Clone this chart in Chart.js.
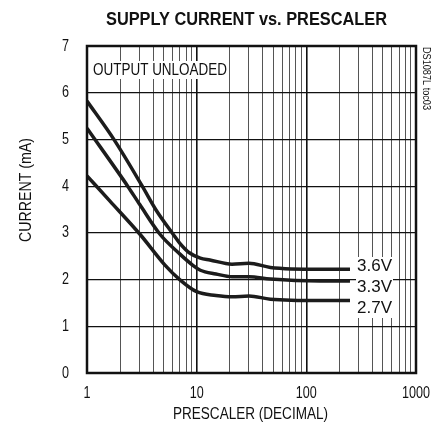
<!DOCTYPE html>
<html>
<head>
<meta charset="utf-8">
<script src="https://cdn.jsdelivr.net/npm/chart.js@4.4.1/dist/chart.umd.min.js"></script>
<style>
  html, body { margin: 0; padding: 0; background: #fff; }
  #wrap { width: 441px; height: 435px; }
</style>
</head>
<body>
<div id="wrap"><canvas id="c" width="441" height="435"></canvas></div>
<script>
// supply current (mA) vs prescaler
const x36 = [1, 1.77, 3.19, 4.26, 6.1, 7, 8.5, 10.8, 13.2, 21, 30, 47, 133, 250];
const y36 = [5.82, 4.99, 4.0, 3.49, 2.97, 2.78, 2.58, 2.46, 2.42, 2.33, 2.35, 2.26, 2.22, 2.22];
const x33 = [1, 2.35, 3.04, 4.63, 7, 9.3, 10.8, 15, 21, 30, 47, 133, 250];
const y33 = [5.24, 4.0, 3.6, 2.97, 2.55, 2.3, 2.2, 2.12, 2.06, 2.06, 2.01, 1.97, 1.97];
const x27 = [1, 1.62, 3.04, 5.14, 7, 10, 15, 21, 30, 47, 133, 250];
const y27 = [4.22, 3.68, 2.97, 2.31, 2.0, 1.74, 1.66, 1.63, 1.65, 1.58, 1.55, 1.55];

const seriesNames = ['3.6V', '3.3V', '2.7V'];
const xTickLabels = [1, 10, 100, 1000];
const yTickLabels = [0, 1, 2, 3, 4, 5, 6, 7];
const xGrid = [1,2,3,4,5,6,7,8,9,10,20,30,40,50,60,70,80,90,100,200,300,400,500,600,700,800,900,1000];

const FONT = "'Liberation Sans', Arial, sans-serif";

function pts(xs, ys) {
  return xs.map((x, i) => ({ x: x, y: ys[i] }));
}

// draw text squeezed horizontally by sx
function narrowText(ctx, text, x, y, align, sx) {
  const w = ctx.measureText(text).width * sx;
  let left = x;
  if (align === 'center') left = x - w / 2;
  else if (align === 'right') left = x - w;
  ctx.save();
  ctx.translate(left, y);
  ctx.scale(sx, 1);
  ctx.textAlign = 'left';
  ctx.fillText(text, 0, 0);
  ctx.restore();
}

// squeeze factor so that text gets the given width
function fitScale(ctx, text, width) {
  return width / ctx.measureText(text).width;
}

function isDecade(v) {
  return xTickLabels.indexOf(v) >= 0;
}

const lineStyle = {
  borderColor: '#1c1c1c',
  borderWidth: 3.5,
  pointRadius: 0,
  fill: false,
  cubicInterpolationMode: 'monotone'
};

const textPlugin = {
  id: 'texts',
  afterDatasetsDraw(chart) {
    const ctx = chart.ctx;
    const a = chart.chartArea;
    const xs = chart.scales.x, ys = chart.scales.y;
    ctx.save();
    ctx.textBaseline = 'middle';

    ctx.font = '16.5px ' + FONT;
    const sx = fitScale(ctx, '1000', 28);

    // OUTPUT UNLOADED box
    ctx.fillStyle = '#fff';
    ctx.fillRect(a.left + 3, 61, 139, 18);
    ctx.fillStyle = '#111';
    narrowText(ctx, 'OUTPUT UNLOADED', 93, 70, 'left', fitScale(ctx, 'OUTPUT UNLOADED', 134));

    // series labels
    const labelY = [266, 287, 308];
    ctx.fillStyle = '#fff';
    ctx.fillRect(356, 257, 37, 61);
    ctx.fillStyle = '#111';
    const sl = fitScale(ctx, '3.6V', 35);
    seriesNames.forEach((s, i) => narrowText(ctx, s, 357, labelY[i], 'left', sl));

    // frame
    ctx.strokeStyle = '#111';
    ctx.lineWidth = 2.5;
    ctx.strokeRect(a.left, a.top, a.right - a.left, a.bottom - a.top);

    // tick labels
    xTickLabels.forEach(v => narrowText(ctx, String(v), xs.getPixelForValue(v), 393, 'center', sx));
    yTickLabels.forEach(v => narrowText(ctx, String(v), 69, ys.getPixelForValue(v), 'right', sx));

    // axis titles
    ctx.font = '16px ' + FONT;
    narrowText(ctx, 'PRESCALER (DECIMAL)', 250.5, 415, 'center', fitScale(ctx, 'PRESCALER (DECIMAL)', 155));
    ctx.save();
    ctx.translate(27, 190);
    ctx.rotate(-Math.PI / 2);
    narrowText(ctx, 'CURRENT (mA)', 0, 0, 'center', fitScale(ctx, 'CURRENT (mA)', 104));
    ctx.restore();

    // title
    ctx.font = 'bold 18.5px ' + FONT;
    narrowText(ctx, 'SUPPLY CURRENT vs. PRESCALER', 246.5, 20, 'center',
      fitScale(ctx, 'SUPPLY CURRENT vs. PRESCALER', 281));

    // side code
    ctx.font = '11px ' + FONT;
    ctx.save();
    ctx.translate(426, 78.5);
    ctx.rotate(Math.PI / 2);
    narrowText(ctx, 'DS1087L toc03', 0, 0, 'center', fitScale(ctx, 'DS1087L toc03', 63));
    ctx.restore();

    ctx.restore();
  }
};

new Chart(document.getElementById('c'), {
  type: 'line',
  data: {
    datasets: [
      Object.assign({ label: seriesNames[0], data: pts(x36, y36) }, lineStyle),
      Object.assign({ label: seriesNames[1], data: pts(x33, y33) }, lineStyle),
      Object.assign({ label: seriesNames[2], data: pts(x27, y27) }, lineStyle)
    ]
  },
  options: {
    responsive: false,
    animation: false,
    layout: { padding: { left: 87, top: 46, right: 25, bottom: 62 } },
    plugins: {
      legend: { display: false },
      tooltip: { enabled: false },
      title: { display: false }
    },
    scales: {
      x: {
        type: 'logarithmic',
        min: 1,
        max: 1000,
        afterBuildTicks: (s) => { s.ticks = xGrid.map(v => ({ value: v })); },
        ticks: { display: false },
        grid: {
          color: (c) => isDecade(c.tick && c.tick.value) ? '#111' : '#555',
          lineWidth: (c) => isDecade(c.tick && c.tick.value) ? 1.6 : 1,
          drawTicks: false
        },
        border: { display: false }
      },
      y: {
        type: 'linear',
        min: 0,
        max: 7,
        ticks: { display: false, stepSize: 1 },
        grid: { color: '#111', lineWidth: 1.2, drawTicks: false },
        border: { display: false }
      }
    }
  },
  plugins: [textPlugin]
});
</script>
</body>
</html>
